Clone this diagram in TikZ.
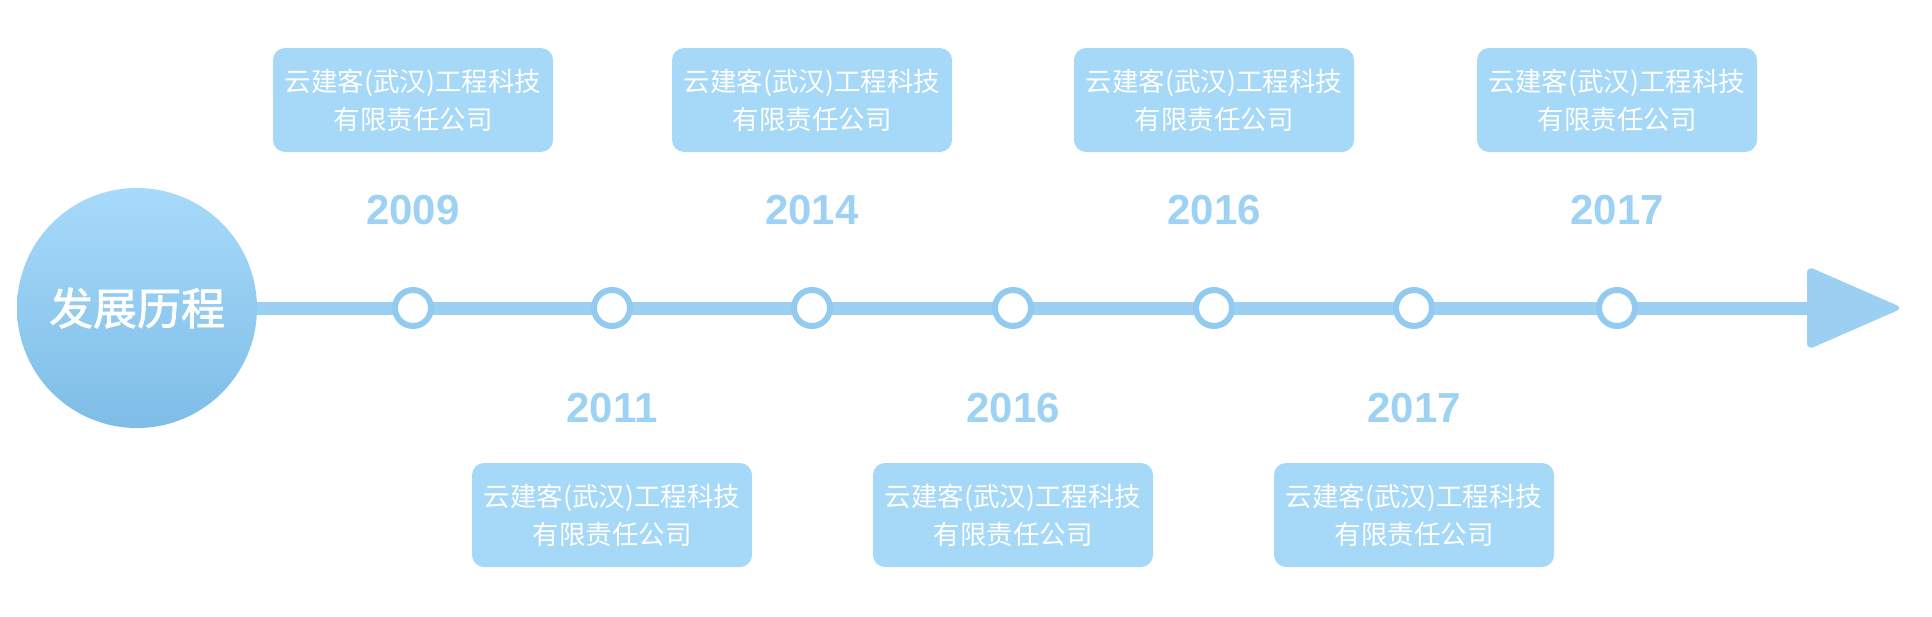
\documentclass[tikz,border=0pt]{standalone}
\usepackage{fontspec}
\setmainfont{Liberation Sans}
\newfontfamily\cjk{Noto Sans CJK SC}
\newfontfamily\cjktitle[FakeBold=1.6]{Noto Sans CJK SC}
\usetikzlibrary{calc}
\definecolor{boxblue}{HTML}{A6D8F8}
\definecolor{lineblue}{HTML}{9BD0F2}
\definecolor{ringblue}{HTML}{92CBEF}
\definecolor{yearblue}{HTML}{9DD2F4}
\definecolor{circtop}{HTML}{A7DAFA}
\definecolor{circbot}{HTML}{7EBDE7}
\tikzset{
  infobox/.style={rectangle, rounded corners=12pt, fill=boxblue, minimum width=280pt, minimum height=104pt, inner sep=0pt,
    text=white, align=center, font=\cjk\fontsize{26.5}{38}\selectfont},
  yearlbl/.style={text=yearblue, font=\fontsize{42}{46}\selectfont\bfseries, inner sep=0pt},
  ring/.style={circle, draw=ringblue, line width=6pt, fill=white, minimum size=36pt, inner sep=0pt},
}
\begin{document}
\begin{tikzpicture}[x=1pt,y=-1pt]
\useasboundingbox (0,0) rectangle (1932,616);
% title circle
\node[circle, minimum size=240pt, inner sep=0pt, top color=circtop, bottom color=circbot, draw=none] (title) at (137,308) {};
\node[text=white, font=\cjktitle\fontsize{44}{48}\selectfont, inner sep=0pt] (titletext) at (137,308) {发展历程};
% arrow head
\coordinate (arrbase) at (1810,308);
\fill[lineblue, rounded corners=7pt] (1807,266) -- (1903,308) -- (1807,350) -- cycle;
\node[inner sep=0pt, minimum size=0pt] (arrtip) at (1903,308) {};
% main line
\draw[lineblue, line width=13pt] (title.east) -- (arrbase);
% rings
\foreach \i/\x in {1/413,2/612,3/812,4/1013,5/1214,6/1414,7/1617}{
  \node[ring] (r\i) at (\x,308) {};
}
% top boxes and years
\foreach \i/\x/\y in {1/413/2009,3/812/2014,5/1214/2016,7/1617/2017}{
  \node[infobox] (b\i) at (\x,100) {云建客(武汉)工程科技\\有限责任公司};
  \node[yearlbl] (y\i) at (\x,210) {\y};
}
% bottom boxes and years
\foreach \i/\x/\y in {2/612/2011,4/1013/2016,6/1414/2017}{
  \node[infobox] (b\i) at (\x,515) {云建客(武汉)工程科技\\有限责任公司};
  \node[yearlbl] (y\i) at (\x,408) {\y};
}
\end{tikzpicture}
\end{document}
